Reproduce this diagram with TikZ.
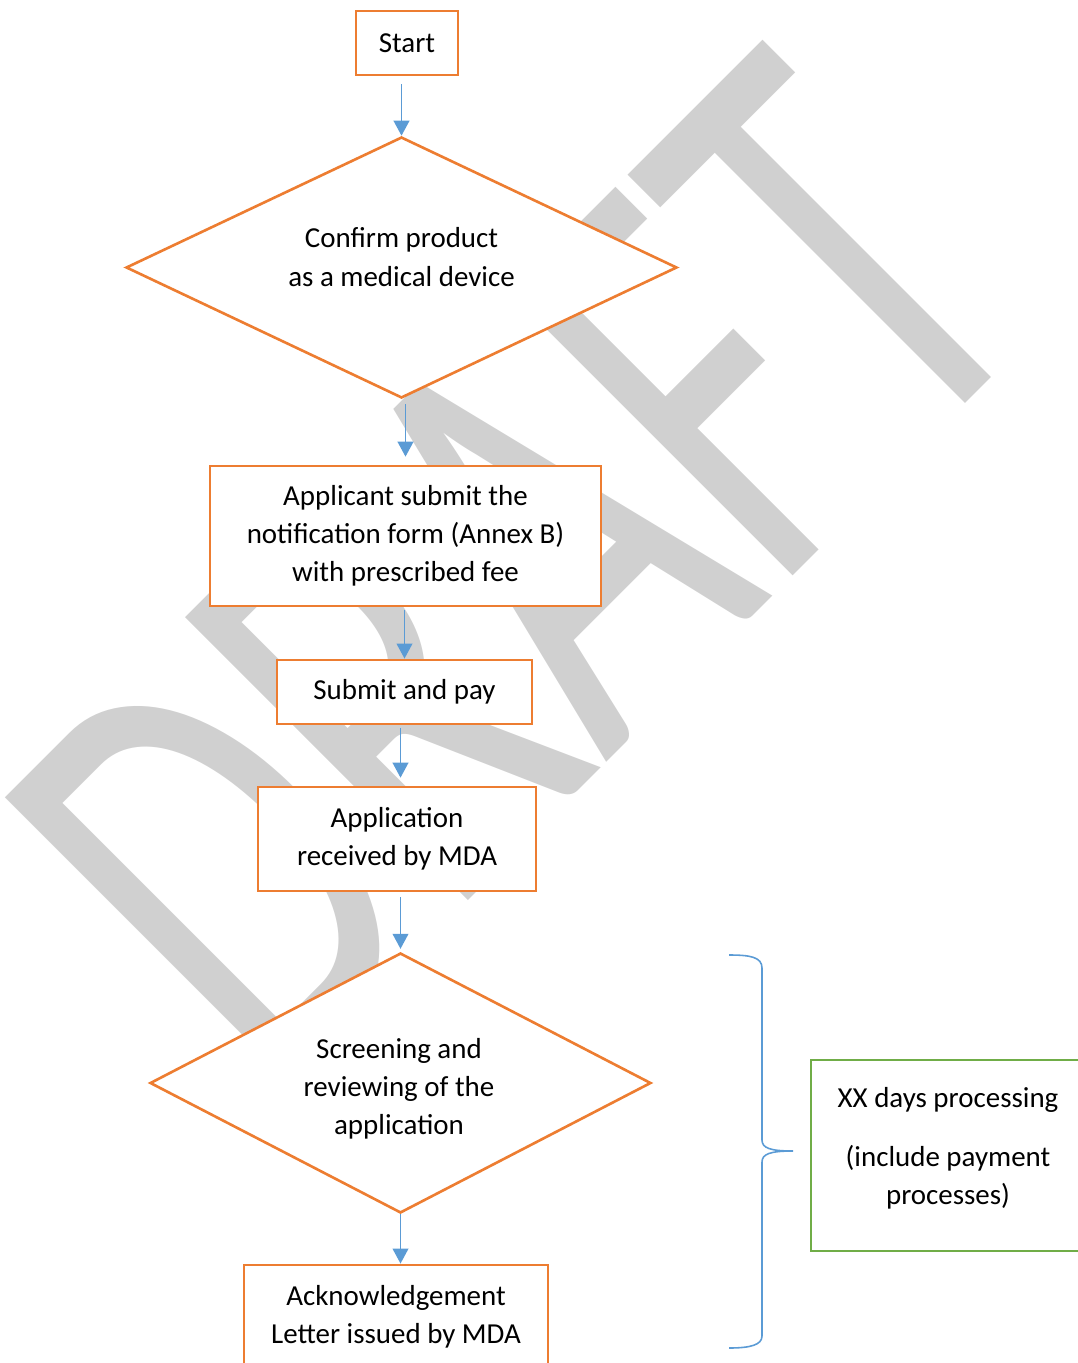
\documentclass[tikz,border=0pt]{standalone}
\usepackage{fontspec}
\setmainfont{Carlito}
\usetikzlibrary{shapes.geometric, arrows.meta, positioning}
\definecolor{mdaorange}{RGB}{237, 125, 49}
\definecolor{mdablue}{RGB}{91, 155, 213}
\definecolor{mdagreen}{RGB}{112, 173, 71}
\definecolor{mdagray}{RGB}{208, 208, 208}
\newcommand{\pxu}{0.38pt}
\tikzset{
  procbox/.style 2 args={rectangle, draw=mdaorange, line width=1.1pt, fill=white,
                align=center, minimum width=#1*\pxu, minimum height=#2*\pxu,
                inner sep=0pt, font=\fontsize{11pt}{14.5pt}\selectfont},
  decision/.style 2 args={diamond, draw=mdaorange, line width=1pt, fill=white,
                minimum width=#1*\pxu, minimum height=#2*\pxu, inner sep=0pt},
  notebox/.style 2 args={rectangle, draw=mdagreen, line width=1.1pt, fill=white,
                minimum width=#1*\pxu, minimum height=#2*\pxu, inner sep=0pt},
  chartext/.style={align=center, inner sep=0pt, font=\fontsize{11pt}{14.5pt}\selectfont},
  flow/.style={-{Triangle[width=6pt, length=5.7pt]}, draw=mdablue, line width=0.6pt},
  bracket/.style={draw=mdablue, line width=0.6pt},
  wmark/.style={text=mdagray, inner sep=0pt, rotate=45, anchor=base west,
                font=\fontsize{237pt}{237pt}\selectfont},
}

\begin{document}
\begin{tikzpicture}[x=0.38pt, y=-0.38pt]
  \useasboundingbox (0,0) rectangle (1077,1363);

  % watermark behind the chart
  \node[wmark] (draft) at (268,1101) {\scalebox{0.66}[1]{DRAFT}};

  % flow chart
  \node[procbox={102}{64}] (start) at (407,43) {Start};
  \node[decision={551}{261}] (confirm) at (401.5,267.5) {};
  \node[chartext] (confirmtext) at (401.5,257) {Confirm product\\as a medical device};
  \node[procbox={391}{140}] (apply) at (405.5,536)
       {Applicant submit the\\notification form (Annex B)\\with prescribed fee};
  \node[procbox={255}{64}] (pay) at (404.5,692) {Submit and pay};
  \node[procbox={278}{104}] (received) at (397,839)
       {Application\\received by MDA};
  \node[decision={501}{260}] (screen) at (400.5,1083) {};
  \node[chartext] (screentext) at (399,1089)
       {Screening and\\reviewing of the\\application};
  \node[procbox={304}{104}] (ack) at (396,1317)
       {Acknowledgement\\Letter issued by MDA};

  \draw[flow, shorten <=3pt] (start.south -| confirm.north) -- (confirm.north);
  \draw[flow, shorten <=1.9pt, shorten >=3pt] (confirm.south -| apply.north) -- (apply.north);
  \draw[flow, shorten <=0.8pt] (apply.south -| pay.north) -- (pay.north);
  \draw[flow, shorten <=0.8pt, shorten >=3pt] (pay.south -| screen.north) -- (received.north -| screen.north);
  \draw[flow, shorten <=1.9pt, shorten >=1.1pt] (received.south -| screen.north) -- (screen.north);
  \draw[flow] (screen.south) -- (ack.north -| screen.south);

  % processing time note
  \node[notebox={274}{191}] (days) at (948,1155.5) {};
  \node[chartext] (daystext) at (948,1148.5)
       {XX days processing\\[8pt](include payment\\processes)};
  \coordinate (tip) at (793,1151);
  \draw[bracket] (729,955) .. controls (750,955) and (762,957) .. (762,968)
    -- (762,1140) .. controls (762,1148) and (770,1151) .. (tip)
    .. controls (770,1151) and (762,1154) .. (762,1162)
    -- (762,1336) .. controls (762,1345) and (750,1348) .. (729,1348);
\end{tikzpicture}
\end{document}
